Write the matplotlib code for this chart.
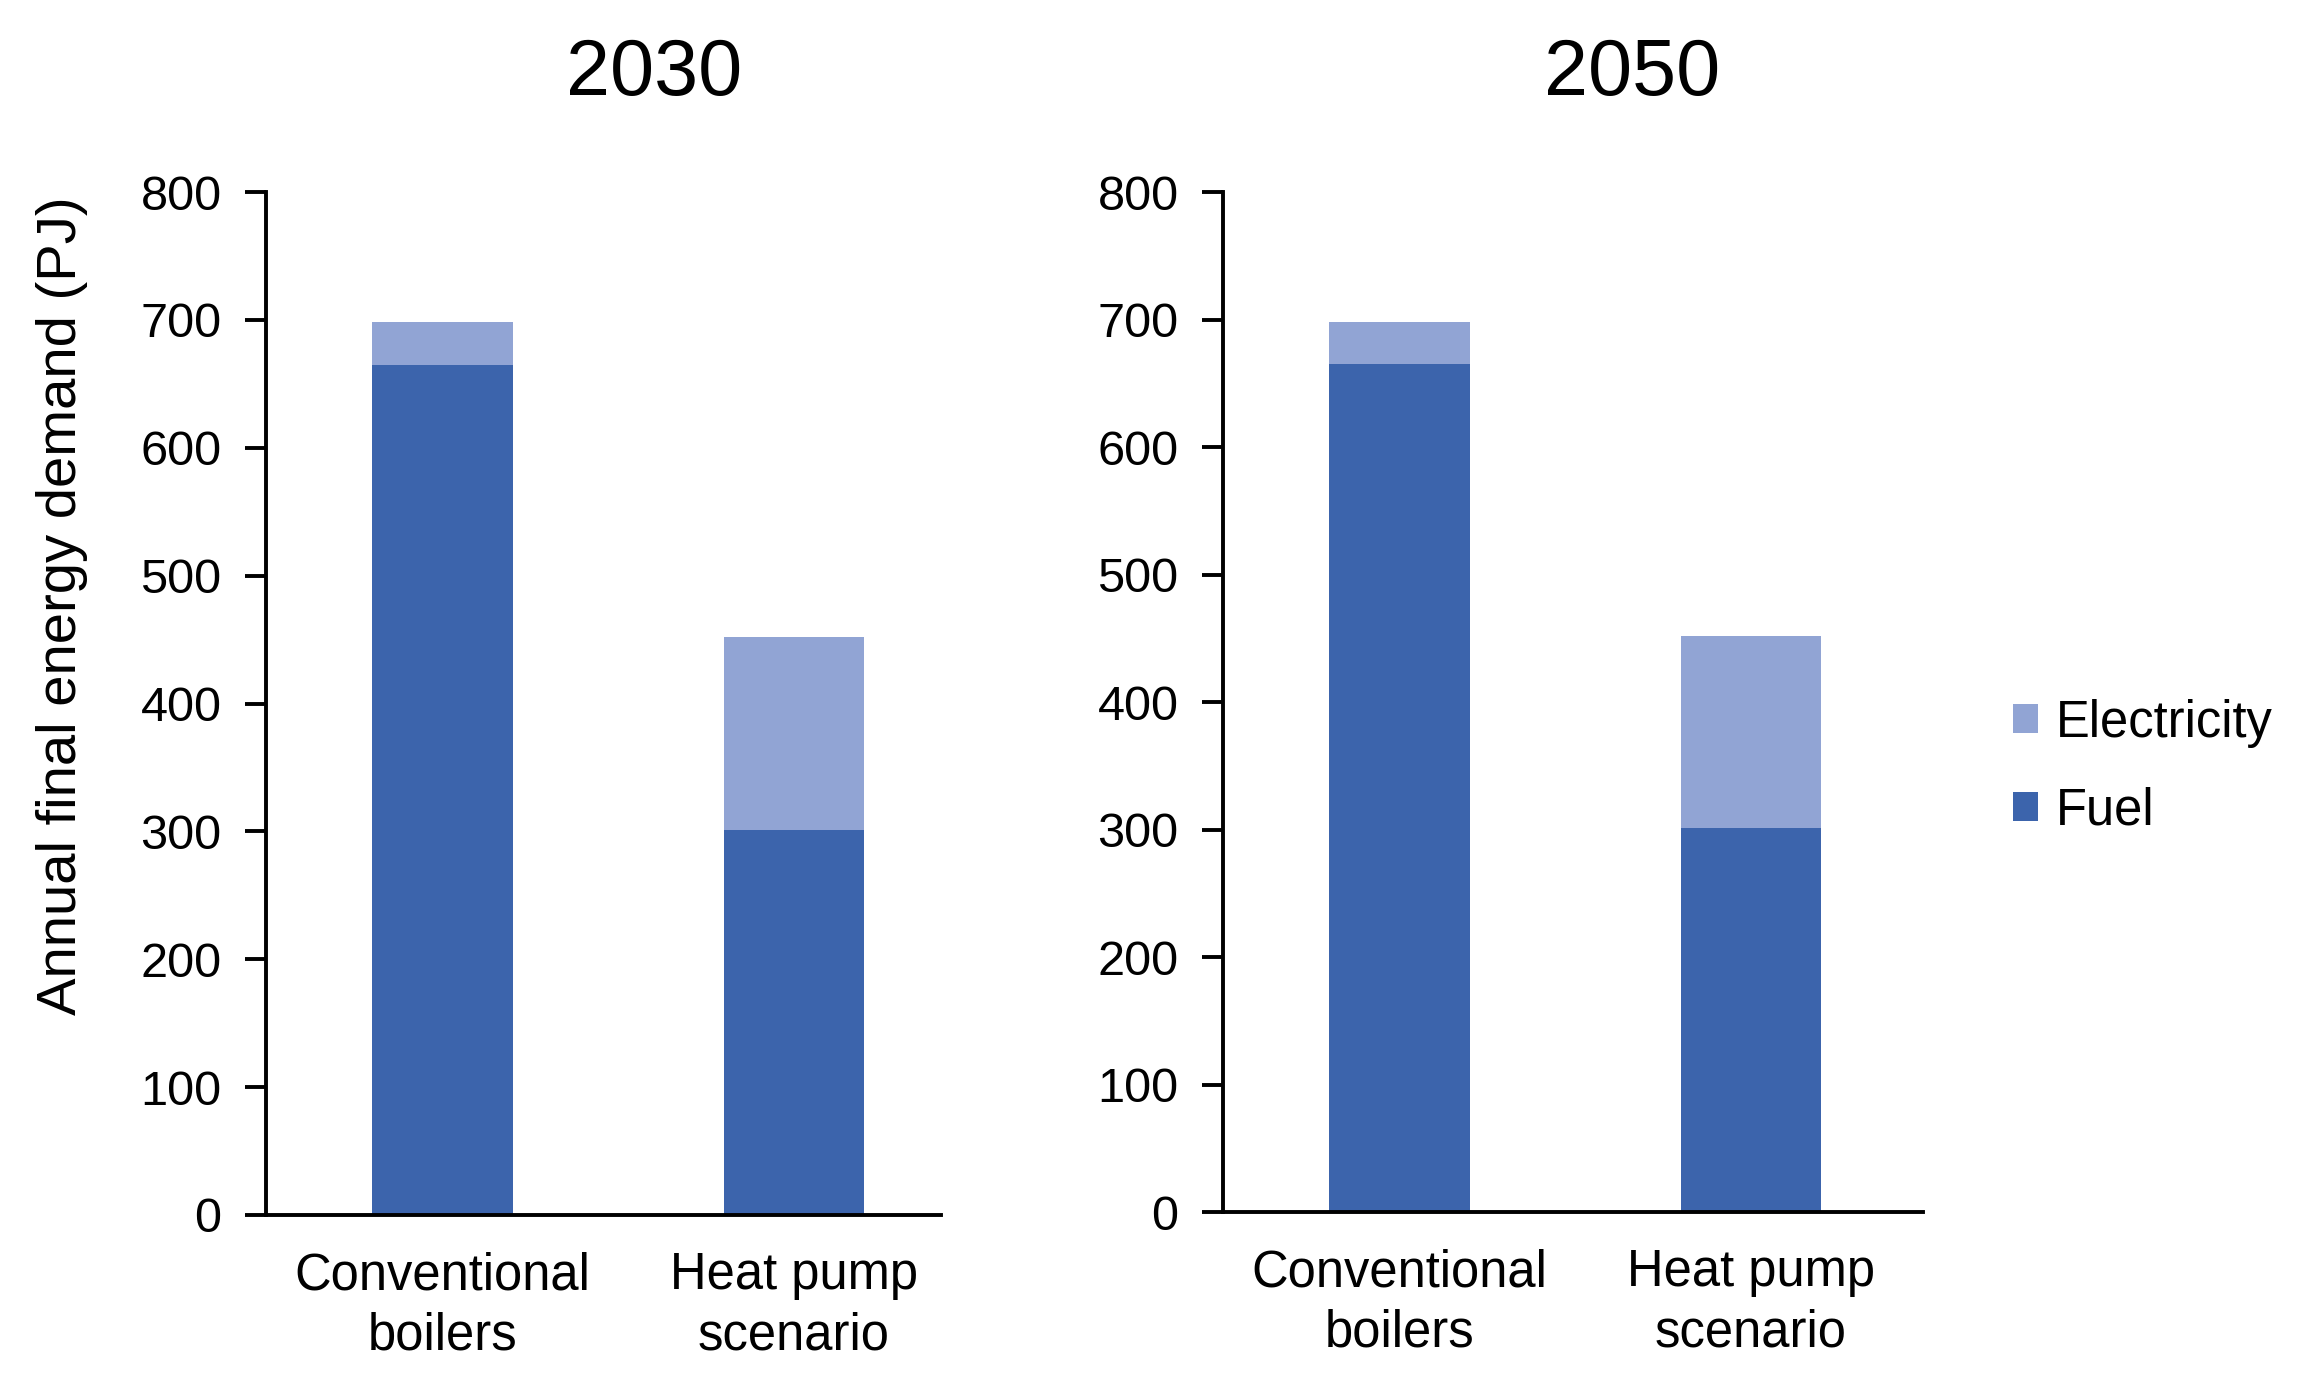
import matplotlib
matplotlib.use("Agg")
import matplotlib.pyplot as plt
from matplotlib.patches import Patch

plt.rcParams['font.family'] = ['Liberation Sans', 'DejaVu Sans']

categories = ["Conventional\nboilers", "Heat pump\nscenario"]
years = ["2030", "2050"]
fuel = {"2030": [665, 301], "2050": [665, 301]}
electricity = {"2030": [33, 151], "2050": [33, 151]}
yticks = [0, 100, 200, 300, 400, 500, 600, 700, 800]

c_fuel = "#3C64AC"
c_elec = "#91A4D4"

W, H = 2316, 1400
fig = plt.figure(figsize=(W / 100, H / 100), dpi=100)

# axes boxes in pixels: (left, right, bottom(0), top(800))
boxes = [(266, 941, 1215, 192), (1223, 1923, 1212, 192)]
xlims = [(-0.502, 1.418), (-0.503, 1.49)]
title_x = [654, 1632]

FS = 35
XFS = 36.5
for i, yr in enumerate(years):
    l, r, b, t = boxes[i]
    ax = fig.add_axes([l / W, 1 - b / H, (r - l) / W, (b - t) / H])
    x = list(range(len(categories)))
    ax.bar(x, fuel[yr], width=0.4, color=c_fuel, label="Fuel")
    ax.bar(x, electricity[yr], width=0.4, bottom=fuel[yr], color=c_elec, label="Electricity")
    ax.set_ylim(0, 800)
    ax.set_xlim(*xlims[i])
    ax.set_yticks(yticks)
    ax.set_xticks(x)
    ax.set_xticklabels(categories, fontsize=XFS, linespacing=1.3)
    ax.tick_params(axis='y', labelsize=FS, length=15, width=2.8, pad=17, direction='out')
    ax.tick_params(axis='x', length=0, pad=26)
    for s in ['top', 'right']:
        ax.spines[s].set_visible(False)
    for s in ['left', 'bottom']:
        ax.spines[s].set_linewidth(2.8)
    fig.text(title_x[i] / W, 1 - 75 / H, yr, fontsize=57, ha='center', va='center')

fig.text(62 / W, 1 - 606 / H, "Annual final energy demand (PJ)", fontsize=40.5,
         rotation=90, ha='center', va='center')

handles = [Patch(facecolor=c_elec), Patch(facecolor=c_fuel)]
fig.legend(handles, ["Electricity", "Fuel"], loc='center left',
           bbox_to_anchor=(2013 / W, 1 - 767 / H), frameon=False, fontsize=XFS,
           handlelength=0.5, handleheight=0.5, handletextpad=0.35, labelspacing=0.76,
           borderpad=0, borderaxespad=0)

fig.savefig("out.png", dpi=100)
